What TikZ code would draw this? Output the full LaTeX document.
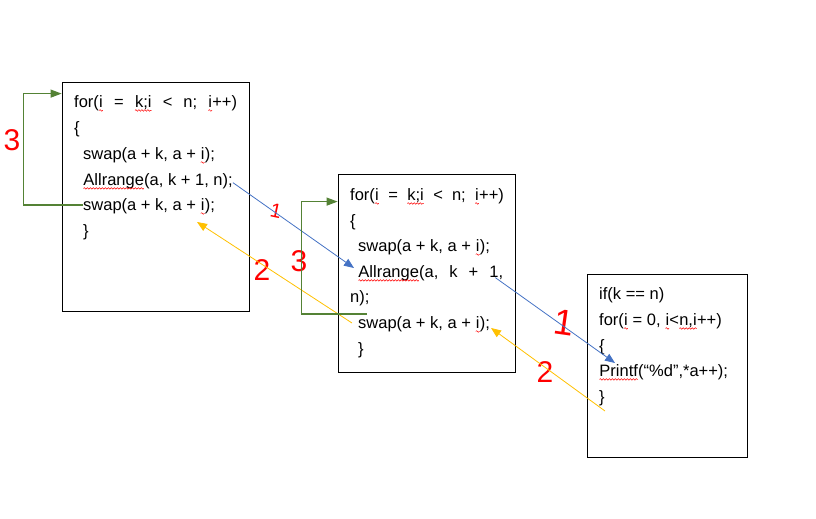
\documentclass[tikz,border=0pt]{standalone}
\usepackage{fontspec}
\setmainfont{Liberation Sans}
\usepackage{xcolor}
\usepackage{tikz}
\usetikzlibrary{arrows.meta, decorations.pathmorphing}
\definecolor{loopgreen}{RGB}{84,130,53}
\definecolor{callblue}{RGB}{68,114,196}
\definecolor{retyellow}{RGB}{255,192,0}
\definecolor{penred}{RGB}{255,0,0}
\newcommand\spl[1]{\tikz[baseline=(w.base)]{\node[inner sep=0pt, outer sep=0pt] (w) {#1};
  \draw[red, line width=0.5pt, decorate, decoration={snake, amplitude=0.8pt, segment length=3pt}]
    ([yshift=-2.8pt]w.base west) -- ([yshift=-2.8pt]w.base east);}}
\newcommand\wsp{\hspace{11pt}}

\begin{document}
\begin{tikzpicture}[x=1pt, y=-1pt,
  frame/.style={draw, line width=0.8pt, inner sep=0pt},
  code/.style={anchor=mid west, inner sep=0pt, font=\fontsize{16.5}{20}\selectfont},
  hand/.style={text=penred, inner sep=0pt, font=\fontsize{30}{30}\selectfont},
  callline/.style={callblue, line width=0.8pt, -{Triangle[length=10pt,width=8pt]}},
  retline/.style={retyellow, line width=0.8pt, -{Triangle[length=10pt,width=8pt]}},
  loopline/.style={loopgreen, line width=1.2pt, -{Triangle[length=11pt,width=8pt]}}]
\useasboundingbox (0,0) rectangle (816,519);
% Frames
\node[frame, minimum width=187pt, minimum height=229pt] (frame1) at (155.5,196.5) {};
\node[frame, minimum width=177pt, minimum height=198pt] (frame2) at (426.5,273) {};
\node[frame, minimum width=160pt, minimum height=183pt] (frame3) at (667,365.5) {};

% Code, first call
\node[code] (for1) at (74,105) {for(\spl{i}\wsp=\wsp\spl{k;i}\wsp<\wsp n;\wsp\spl{i}++)};
\node[code] (open1) at (74,131) {\{};
\node[code] (swapa1) at (83,157) {swap(a + k, a + \spl{i});};
\node[code] (call1) at (83,183) {\spl{Allrange}(a, k + 1, n);};
\node[code] (swapb1) at (83,208) {swap(a + k, a + \spl{i});};
\node[code] (close1) at (83,234) {\}};

% Code, second call
\node[code] (for2) at (350,198) {for(\spl{i}\ \ =\ \ \spl{k;i}\ \ <\ \ n;\ \ \spl{i}++)};
\node[code] (open2) at (350,224) {\{};
\node[code] (swapa2) at (358,249) {swap(a + k, a + \spl{i});};
\node[code] (call2) at (358,275) {\spl{Allrange}(a,\wsp k\wsp+\wsp1,};
\node[code] (tail2) at (350,300) {n);};
\node[code] (swapb2) at (358,326) {swap(a + k, a + \spl{i});};
\node[code] (close2) at (358,352) {\}};

% Code, last call
\node[code] (if3) at (599,297) {if(k == n)};
\node[code] (for3) at (599,323) {for(\spl{i} = 0, \spl{i}<\spl{n,i}++)};
\node[code] (open3) at (599,349) {\{};
\node[code] (print3) at (599,374) {\spl{Printf}(“\%d”,*a++);};
\node[code] (close3) at (599,400) {\}};

% Handwritten steps
\node[hand] (step3a) at (12,140) {3};
\node[hand, font=\fontsize{20}{20}\selectfont, rotate=-12] (step1a) at (276,211) {1};
\node[hand] (step2a) at (262,270) {2};
\node[hand] (step3b) at (299,261) {3};
\node[hand, font=\fontsize{36}{36}\selectfont, rotate=-8] (step1b) at (564,323) {1};
\node[hand] (step2b) at (545,372) {2};

% Arrows
\draw[callline] ([yshift=3pt]call1.base east) -- ([xshift=-4pt,yshift=7pt]call2.mid west);
\draw[callline] ([xshift=-8pt]call2.base east) -- ([xshift=16pt,yshift=11pt]print3.mid west);
\draw[retline] ([xshift=-6pt,yshift=3pt]swapb2.mid west) -- ([xshift=-18pt,yshift=-14pt]swapb1.mid east);
\draw[retline] ([xshift=6pt,yshift=-11pt]close3.mid west) -- ([xshift=1pt,yshift=-2pt]swapb2.mid east);
\draw[loopline] ([yshift=3pt]swapb1.mid west) -| ([xshift=-38pt,yshift=-12pt]frame1.north west) -- ([yshift=-12pt]frame1.north west);
\draw[loopline] ([xshift=9pt,yshift=12pt]swapb2.mid west) -| ([xshift=-36pt,yshift=-28pt]frame2.north west) -- ([yshift=-28pt]frame2.north west);
\end{tikzpicture}
\end{document}
